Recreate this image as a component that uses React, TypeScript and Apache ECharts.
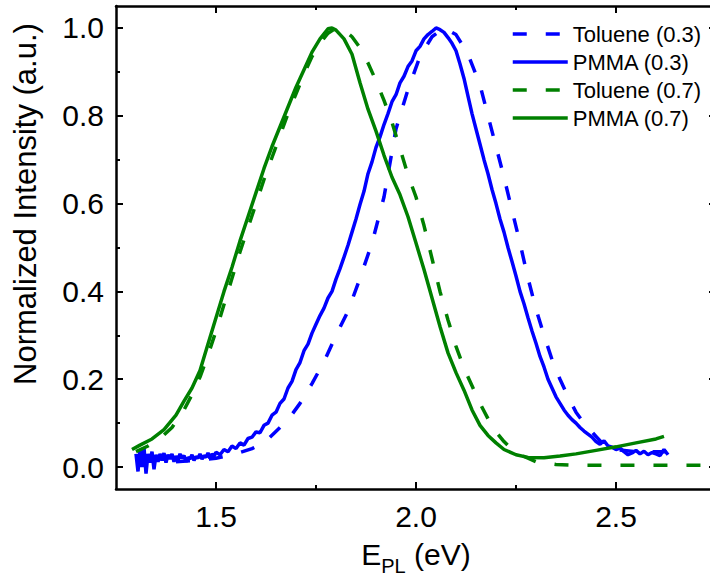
import React, { useEffect, useRef } from "react";
import * as echarts from "echarts";

const FONT = "'Liberation Sans', Arial, Helvetica, sans-serif";

const X_MIN = 1.25;
const X_MAX = 2.75;
const Y_MIN = -0.05;
const Y_MAX = 1.05;

const xMajorTicks = [1.5, 2.0, 2.5];
const xMinorTicks = [1.75, 2.25];
const yMajorTicks = [0, 0.2, 0.4, 0.6, 0.8, 1.0];
const yMinorTicks = [0.1, 0.3, 0.5, 0.7, 0.9];

const seriesNames = ["Toluene (0.3)", "PMMA (0.3)", "Toluene (0.7)", "PMMA (0.7)"];

// Toluene (0.3): [E (eV), normalized intensity]
const toluene03 = [
  [1.40, 0.012], [1.45, 0.015], [1.50, 0.020], [1.55, 0.030], [1.59, 0.042],
  [1.62, 0.055], [1.66, 0.090], [1.69, 0.120], [1.71, 0.145], [1.74, 0.190],
  [1.77, 0.240], [1.80, 0.300], [1.83, 0.355], [1.86, 0.430], [1.89, 0.510],
  [1.92, 0.615], [1.95, 0.770], [1.98, 0.860], [2.01, 0.935], [2.04, 0.980],
  [2.07, 1.000], [2.10, 0.985], [2.13, 0.940], [2.16, 0.870], [2.18, 0.800],
  [2.20, 0.730], [2.22, 0.660], [2.24, 0.585], [2.26, 0.510], [2.28, 0.430],
  [2.30, 0.360], [2.32, 0.300], [2.34, 0.245], [2.36, 0.200], [2.38, 0.160],
  [2.40, 0.125], [2.42, 0.100], [2.45, 0.070], [2.47, 0.050], [2.50, 0.040],
  [2.55, 0.035], [2.60, 0.035], [2.635, 0.035],
];

// PMMA (0.3)
const pmma03 = [
  [1.300, 0.030], [1.305, -0.010], [1.310, 0.040], [1.315, 0.000], [1.320, 0.045],
  [1.325, -0.015], [1.330, 0.030], [1.335, 0.010], [1.340, 0.035], [1.345, -0.005],
  [1.350, 0.028], [1.355, 0.012], [1.360, 0.030], [1.365, 0.015], [1.370, 0.032],
  [1.375, 0.010], [1.380, 0.028], [1.385, 0.018], [1.390, 0.030], [1.395, 0.012],
  [1.400, 0.025], [1.405, 0.015], [1.410, 0.030], [1.415, 0.020], [1.420, 0.026],
  [1.425, 0.012], [1.430, 0.022], [1.435, 0.018], [1.440, 0.028], [1.445, 0.015],
  [1.450, 0.024], [1.455, 0.020], [1.460, 0.030], [1.465, 0.018], [1.470, 0.026],
  [1.475, 0.022], [1.480, 0.032], [1.485, 0.020], [1.490, 0.030], [1.495, 0.024],
  [1.500, 0.034], [1.51, 0.028], [1.52, 0.040], [1.53, 0.035], [1.54, 0.048],
  [1.55, 0.042], [1.56, 0.055], [1.57, 0.050], [1.58, 0.065], [1.59, 0.068],
  [1.60, 0.080], [1.61, 0.078], [1.62, 0.095], [1.63, 0.100], [1.64, 0.118],
  [1.65, 0.125], [1.66, 0.145], [1.67, 0.155], [1.68, 0.180], [1.69, 0.195],
  [1.70, 0.222], [1.71, 0.238], [1.72, 0.265], [1.73, 0.280], [1.74, 0.305],
  [1.75, 0.325], [1.76, 0.345], [1.77, 0.362], [1.78, 0.385], [1.79, 0.400],
  [1.80, 0.428], [1.81, 0.452], [1.82, 0.478], [1.83, 0.505], [1.84, 0.535],
  [1.85, 0.565], [1.86, 0.598], [1.87, 0.628], [1.88, 0.668], [1.89, 0.695],
  [1.90, 0.728], [1.91, 0.752], [1.92, 0.780], [1.93, 0.805], [1.94, 0.832],
  [1.95, 0.848], [1.96, 0.875], [1.97, 0.890], [1.98, 0.912], [1.99, 0.925],
  [2.00, 0.948], [2.01, 0.958], [2.02, 0.975], [2.03, 0.985], [2.04, 0.992],
  [2.05, 1.000], [2.06, 0.996], [2.07, 0.990], [2.08, 0.978], [2.09, 0.965],
  [2.10, 0.948], [2.11, 0.918], [2.12, 0.885], [2.13, 0.845], [2.14, 0.805],
  [2.15, 0.770], [2.16, 0.735], [2.17, 0.700], [2.18, 0.668], [2.19, 0.632],
  [2.20, 0.600], [2.21, 0.565], [2.22, 0.535], [2.23, 0.500], [2.24, 0.468],
  [2.25, 0.435], [2.26, 0.400], [2.27, 0.372], [2.28, 0.340], [2.29, 0.310],
  [2.30, 0.282], [2.31, 0.252], [2.32, 0.228], [2.33, 0.200], [2.34, 0.180],
  [2.35, 0.160], [2.36, 0.145], [2.37, 0.130], [2.38, 0.118], [2.39, 0.108],
  [2.40, 0.100], [2.41, 0.090], [2.42, 0.082], [2.43, 0.075], [2.44, 0.068],
  [2.45, 0.058], [2.46, 0.052], [2.47, 0.060], [2.48, 0.048], [2.49, 0.045],
  [2.50, 0.040], [2.51, 0.043], [2.52, 0.035], [2.53, 0.028], [2.54, 0.032],
  [2.55, 0.038], [2.56, 0.030], [2.57, 0.036], [2.58, 0.028], [2.59, 0.033],
  [2.60, 0.030], [2.61, 0.026], [2.62, 0.040], [2.63, 0.028],
];

// Toluene (0.7)
const toluene07 = [
  [1.30, 0.035], [1.33, 0.048], [1.36, 0.065], [1.39, 0.090], [1.42, 0.130],
  [1.44, 0.165], [1.46, 0.205], [1.48, 0.255], [1.50, 0.310], [1.52, 0.370],
  [1.54, 0.430], [1.56, 0.490], [1.58, 0.545], [1.60, 0.600], [1.62, 0.655],
  [1.64, 0.705], [1.66, 0.755], [1.68, 0.805], [1.70, 0.850], [1.72, 0.895],
  [1.74, 0.935], [1.76, 0.965], [1.78, 0.988], [1.80, 1.000], [1.82, 0.995],
  [1.84, 0.980], [1.86, 0.955], [1.88, 0.920], [1.90, 0.880], [1.92, 0.835],
  [1.94, 0.785], [1.96, 0.725], [1.98, 0.665], [2.00, 0.615], [2.02, 0.550],
  [2.04, 0.475], [2.06, 0.400], [2.08, 0.335], [2.10, 0.275], [2.12, 0.225],
  [2.14, 0.185], [2.16, 0.145], [2.18, 0.110], [2.20, 0.080], [2.22, 0.058],
  [2.24, 0.040], [2.26, 0.028], [2.28, 0.020], [2.30, 0.012], [2.35, 0.006],
  [2.40, 0.004], [2.50, 0.004], [2.60, 0.004], [2.75, 0.004],
];

// PMMA (0.7)
const pmma07 = [
  [1.29, 0.040], [1.31, 0.050], [1.34, 0.064], [1.37, 0.085], [1.40, 0.118],
  [1.42, 0.150], [1.44, 0.180], [1.46, 0.220], [1.48, 0.280], [1.50, 0.340],
  [1.52, 0.400], [1.54, 0.455], [1.56, 0.515], [1.58, 0.570], [1.60, 0.625],
  [1.62, 0.680], [1.64, 0.730], [1.66, 0.775], [1.68, 0.820], [1.70, 0.865],
  [1.72, 0.905], [1.74, 0.945], [1.76, 0.975], [1.78, 0.998], [1.79, 1.000],
  [1.80, 0.995], [1.82, 0.975], [1.84, 0.940], [1.86, 0.875], [1.88, 0.815],
  [1.90, 0.765], [1.92, 0.710], [1.94, 0.660], [1.96, 0.620], [1.98, 0.570],
  [2.00, 0.510], [2.02, 0.450], [2.04, 0.385], [2.06, 0.320], [2.08, 0.260],
  [2.10, 0.215], [2.12, 0.175], [2.14, 0.130], [2.16, 0.095], [2.18, 0.072],
  [2.20, 0.055], [2.22, 0.040], [2.25, 0.028], [2.28, 0.022], [2.32, 0.021],
  [2.36, 0.025], [2.40, 0.030], [2.45, 0.038], [2.50, 0.046], [2.55, 0.055],
  [2.60, 0.064], [2.62, 0.070],
];

const BLUE = "#0000ff";
const GREEN = "#008000";
const DASH = [14, 19];

function makeXAxis(position: string, ticks: number[], len: number, labels: boolean, line: boolean) {
  return {
    type: "value",
    min: X_MIN,
    max: X_MAX,
    position,
    axisLine: { show: line, onZero: false, lineStyle: { color: "#000", width: 2.5 } },
    axisTick: { show: true, inside: true, length: len, customValues: ticks, lineStyle: { color: "#000", width: 2 } },
    axisLabel: labels
      ? { show: true, customValues: ticks, formatter: (v: number) => v.toFixed(1), fontSize: 30, color: "#000", fontFamily: FONT, margin: 12 }
      : { show: false },
    splitLine: { show: false },
  };
}

function makeYAxis(position: string, ticks: number[], len: number, labels: boolean, line: boolean) {
  return {
    type: "value",
    min: Y_MIN,
    max: Y_MAX,
    position,
    axisLine: { show: line, onZero: false, lineStyle: { color: "#000", width: 2.5 } },
    axisTick: { show: true, inside: true, length: len, customValues: ticks, lineStyle: { color: "#000", width: 2 } },
    axisLabel: labels
      ? { show: true, customValues: ticks, formatter: (v: number) => v.toFixed(1), fontSize: 30, color: "#000", fontFamily: FONT, margin: 12 }
      : { show: false },
    splitLine: { show: false },
  };
}

export default function App() {
  const ref = useRef<HTMLDivElement>(null);
  useEffect(() => {
    if (!ref.current) return;
    const chart = echarts.init(ref.current, undefined, { renderer: "svg" });
    const xBottom: any = makeXAxis("bottom", xMajorTicks, 7, true, true);
    xBottom.name = "{a|E}{b|PL}{a| (eV)}";
    xBottom.nameLocation = "middle";
    xBottom.nameGap = 50;
    xBottom.nameTextStyle = {
      rich: {
        a: { fontSize: 30, fontFamily: FONT, color: "#000", lineHeight: 30, verticalAlign: "top" },
        b: { fontSize: 20, fontFamily: FONT, color: "#000", lineHeight: 20, verticalAlign: "top", padding: [17, 0, 0, 0] },
      },
    };
    const option: any = {
      animation: false,
      backgroundColor: "#fff",
      grid: { left: 116, top: 6, width: 600, height: 483, containLabel: false, outerBoundsMode: "none" },
      xAxis: [
        xBottom,
        makeXAxis("bottom", xMinorTicks, 4, false, false),
        makeXAxis("top", xMajorTicks, 7, false, true),
        makeXAxis("top", xMinorTicks, 4, false, false),
      ],
      yAxis: [
        makeYAxis("left", yMajorTicks, 7, true, true),
        makeYAxis("left", yMinorTicks, 4, false, false),
        makeYAxis("right", yMajorTicks, 7, false, true),
        makeYAxis("right", yMinorTicks, 4, false, false),
      ],
      legend: {
        orient: "vertical",
        left: 506,
        top: 18,
        itemWidth: 55,
        itemHeight: 14,
        itemGap: 6,
        data: seriesNames,
        itemStyle: { opacity: 0 },
        lineStyle: { width: 3.5 },
        textStyle: { fontSize: 22, fontFamily: FONT, color: "#000", lineHeight: 22 },
      },
      graphic: [
        {
          type: "text",
          x: 25,
          y: 204,
          rotation: Math.PI / 2,
          style: {
            text: "Normalized Intensity (a.u.)",
            fontSize: 31,
            fontFamily: FONT,
            fill: "#000",
            align: "center",
            verticalAlign: "middle",
            textAlign: "center",
            textVerticalAlign: "middle",
          },
        },
      ],
      series: [
        { name: seriesNames[0], type: "line", data: toluene03, color: BLUE, symbol: "none", showSymbol: false, lineStyle: { color: BLUE, width: 3.5, type: DASH } },
        { name: seriesNames[1], type: "line", data: pmma03, color: BLUE, symbol: "none", showSymbol: false, lineStyle: { color: BLUE, width: 3.5, type: "solid" } },
        { name: seriesNames[2], type: "line", data: toluene07, color: GREEN, symbol: "none", showSymbol: false, lineStyle: { color: GREEN, width: 3.5, type: DASH } },
        { name: seriesNames[3], type: "line", data: pmma07, color: GREEN, symbol: "none", showSymbol: false, lineStyle: { color: GREEN, width: 3.5, type: "solid" } },
      ],
    };
    chart.setOption(option);
    return () => chart.dispose();
  }, []);
  return <div ref={ref} style={{ position: "fixed", left: 0, top: 0, width: 710, height: 579, background: "#fff" }} />;
}
